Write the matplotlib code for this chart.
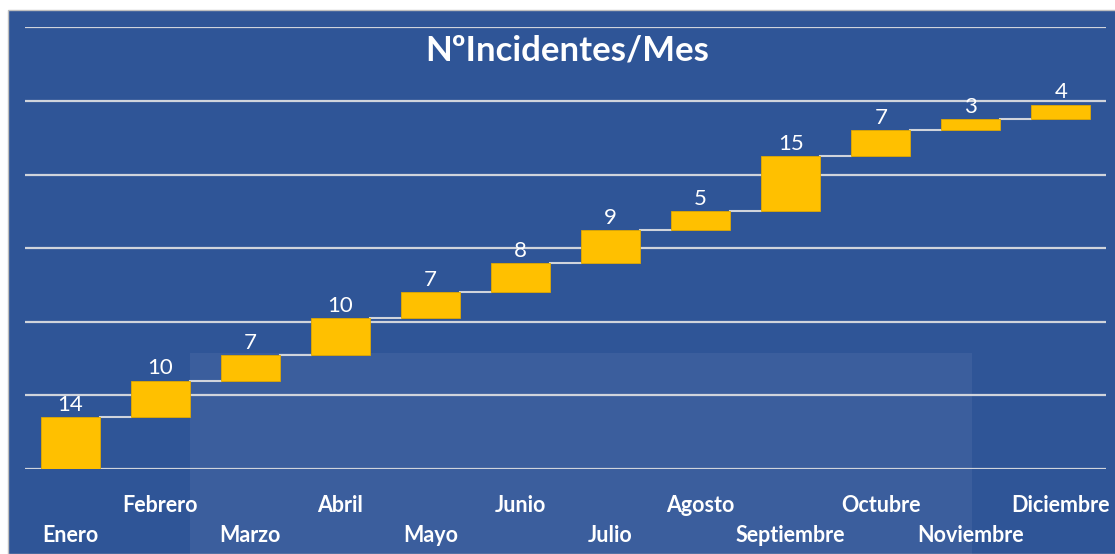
import matplotlib.pyplot as plt
import matplotlib.patches as mpatches
import numpy as np

meses = ['Enero', 'Febrero', 'Marzo', 'Abril', 'Mayo', 'Junio', 'Julio',
         'Agosto', 'Septiembre', 'Octubre', 'Noviembre', 'Diciembre']
incidentes = [14, 10, 7, 10, 7, 8, 9, 5, 15, 7, 3, 4]

azul = '#2F5597'
oro = '#FFC000'
gris = '#D0D4DC'

plt.rcParams['font.family'] = ['Lato', 'DejaVu Sans']

fig = plt.figure(figsize=(11.15, 5.54), dpi=100)
fig.patch.set_facecolor('white')
# fondo azul del grafico (panel)
fig.patches.append(mpatches.Rectangle((8 / 1115, 0), 1, 1 - 10 / 554,
                                      transform=fig.transFigure, facecolor=azul,
                                      edgecolor='#BFBFBF', lw=1, zorder=-2))
# zona algo mas clara (marca de agua del documento)
fig.patches.append(mpatches.Rectangle((190 / 1115, 0), 782 / 1115, 201 / 554,
                                      transform=fig.transFigure, facecolor='white',
                                      alpha=0.06, lw=0, zorder=-1))

ax = fig.add_axes([25 / 1115, 85 / 554, 1081 / 1115, (469 - 27.4) / 554])
ax.set_facecolor('none')

x = np.arange(len(incidentes))
fin = np.cumsum(incidentes)
ini = fin - np.array(incidentes)
w = 0.655

for y in range(0, 121, 20):
    ax.axhline(y, color=gris, lw=1.6, zorder=0)

ax.bar(x, incidentes, bottom=ini, width=w, color=oro, edgecolor='#E0A800',
       lw=0.6, zorder=3)

# lineas de conexion
for i in range(len(x) - 1):
    ax.plot([x[i] + w / 2, x[i + 1] - w / 2], [fin[i], fin[i]], color=gris,
            lw=1.5, zorder=2)

for i in range(len(x)):
    ax.text(x[i], fin[i] + 0.6, str(incidentes[i]), ha='center', va='bottom',
            color='white', fontsize=16, zorder=4)

for i, m in enumerate(meses):
    yy = -10.0 if i % 2 else -18.1
    ax.text(x[i], yy, m, ha='center', va='center', color='white',
            fontsize=15.5, fontweight='bold')

ax.set_xlim(-0.5, len(x) - 0.5)
ax.set_ylim(0, 120)
ax.axis('off')

fig.text(567 / 1115, 1 - 50 / 554, 'NºIncidentes/Mes', ha='center', va='center',
         color='white', fontsize=25, fontweight='bold')

fig.savefig('out.png', dpi=100)
